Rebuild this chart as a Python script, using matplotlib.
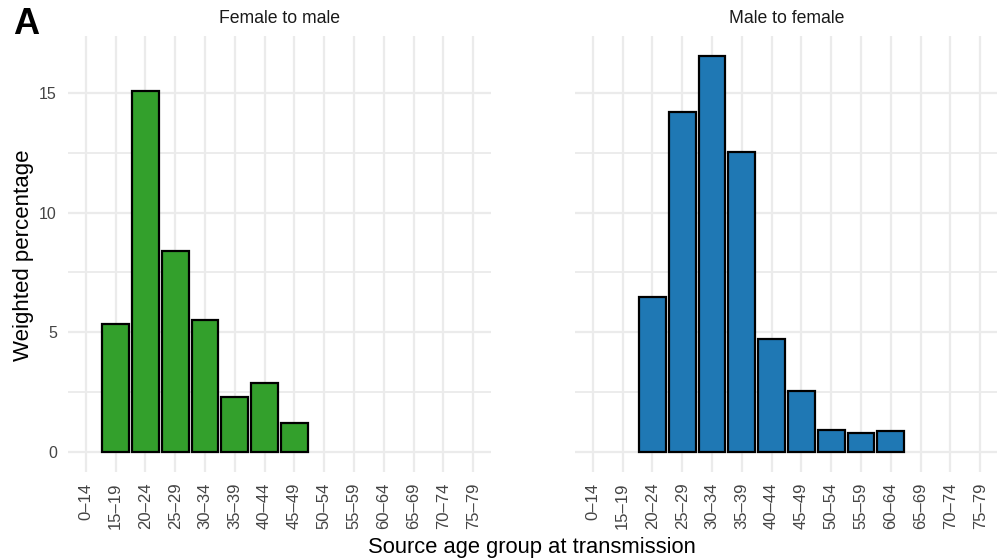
import matplotlib
matplotlib.use("Agg")
import matplotlib.pyplot as plt
import numpy as np

plt.rcParams['font.family'] = ['Liberation Sans', 'DejaVu Sans']

age_groups = ["0–14", "15–19", "20–24", "25–29", "30–34", "35–39", "40–44",
              "45–49", "50–54", "55–59", "60–64", "65–69", "70–74", "75–79"]

# weighted percentage per source age group (0 = no bar)
female_to_male = [0, 5.34, 15.1, 8.38, 5.51, 2.28, 2.86, 1.19, 0, 0, 0, 0, 0, 0]
male_to_female = [0, 0, 6.49, 14.23, 16.57, 12.53, 4.72, 2.55, 0.91, 0.77, 0.85, 0, 0, 0]

panels = [("Female to male", female_to_male, "#33a02c"),
          ("Male to female", male_to_female, "#1f78b4")]

fig = plt.figure(figsize=(9.97, 5.58), dpi=100)

W, H = 997, 558
bottom = (H - 471.5) / H
height = (471.5 - 35.8) / H
lefts = [68 / W, 575 / W]
width = 423 / W

x = np.arange(1, len(age_groups) + 1)
ymax = max(max(female_to_male), max(male_to_female))
pad = 0.05 * ymax

for i, (title, vals, col) in enumerate(panels):
    ax = fig.add_axes([lefts[i], bottom, width, height])
    vals = np.array(vals)
    keep = vals > 0
    ax.bar(x[keep], vals[keep], width=0.9, color=col, edgecolor="black",
           linewidth=1.6, zorder=3)
    ax.set_xlim(0.4, len(age_groups) + 0.6)
    ax.set_ylim(-pad, ymax + pad)
    ax.set_xticks(x)
    ax.set_xticklabels(age_groups, rotation=90, fontsize=12, color="#444444")
    ax.set_yticks([0, 5, 10, 15])
    ax.set_yticks([2.5, 7.5, 12.5], minor=True)
    if i == 0:
        ax.set_yticklabels(["0", "5", "10", "15"], fontsize=11.5, color="#444444")
    else:
        ax.set_yticklabels([])
    ax.tick_params(axis="both", which="both", length=0, pad=8)
    ax.grid(True, which="major", color="#ebebeb", linewidth=1.6, zorder=0)
    ax.grid(True, which="minor", axis="y", color="#ebebeb", linewidth=1.3, zorder=0)
    for s in ax.spines.values():
        s.set_visible(False)
    ax.set_title(title, fontsize=12.7, color="#1a1a1a", pad=9)

fig.text(532 / W, 1 - 548 / H, "Source age group at transmission",
         ha="center", va="center", fontsize=15.8, color="black")
fig.text(24 / W, 1 - 255 / H, "Weighted percentage", rotation=90,
         ha="center", va="center", fontsize=16, color="black")
fig.text(26 / W, 1 - 25 / H, "A", ha="center", va="center",
         fontsize=26, fontweight="bold")

fig.savefig("out.png", dpi=100)
